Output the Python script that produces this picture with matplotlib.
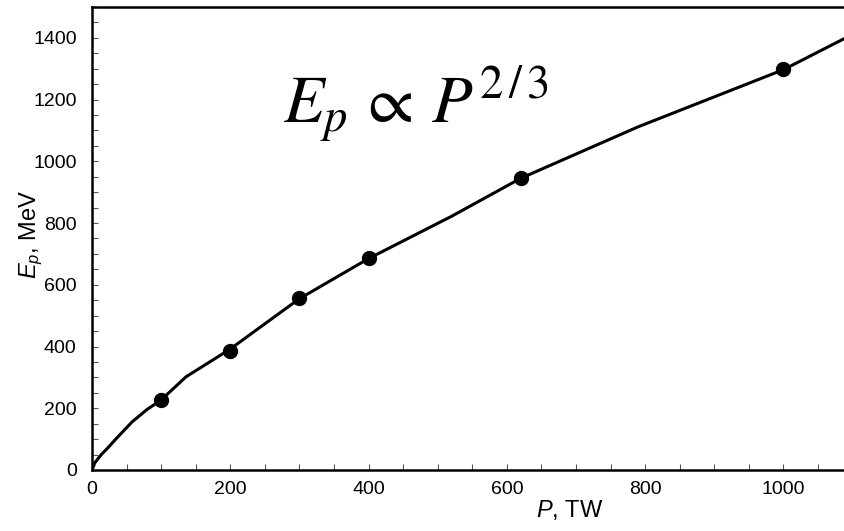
import matplotlib.pyplot as plt
from matplotlib.ticker import MultipleLocator

# measured points
P_data = [100, 200, 300, 400, 620, 1000]
E_data = [228, 384, 557, 687, 945, 1298]

# fitted curve
P_fit = [0, 4, 13, 23, 36, 58, 79, 100, 136, 200, 260, 300, 400, 520, 620, 790, 1000, 1090]
E_fit = [0, 23, 49, 72, 104, 156, 195, 227, 302, 392, 490, 555, 685, 822, 945, 1112, 1297, 1400]

x_ticks = [0, 200, 400, 600, 800, 1000]
y_ticks = [0, 200, 400, 600, 800, 1000, 1200, 1400]

plt.rcParams['font.family'] = ['Liberation Sans', 'DejaVu Sans']
plt.rcParams['mathtext.fontset'] = 'custom'
plt.rcParams['mathtext.rm'] = 'Liberation Sans'
plt.rcParams['mathtext.it'] = 'Liberation Sans:italic'

fig = plt.figure(figsize=(8.45, 5.31), dpi=100)
ax = fig.add_axes([0.1089, 0.1149, 0.8911, 0.8719])

ax.plot(P_fit, E_fit, color='black', lw=2.2, solid_joinstyle='round')
ax.plot(P_data, E_data, 'o', color='black', ms=10)

ax.set_xlim(0, 1089)
ax.set_ylim(0, 1500)
ax.set_xticks(x_ticks)
ax.set_yticks(y_ticks)
ax.xaxis.set_minor_locator(MultipleLocator(50))
ax.yaxis.set_minor_locator(MultipleLocator(50))
ax.tick_params(which='both', direction='in', length=4, width=0.8, color='#555555')
ax.tick_params(axis='x', labelsize=14, pad=8)
ax.tick_params(axis='y', labelsize=14, pad=11)

for side in ['left', 'bottom', 'top']:
	ax.spines[side].set_linewidth(1.8)
ax.spines['right'].set_visible(False)

ax.set_xlabel(r'$P$, TW', fontsize=17)
ax.set_ylabel(r'$E_p$, MeV', fontsize=17)
ax.xaxis.set_label_coords(0.635, -0.06)
ax.yaxis.set_label_coords(-0.062, 0.508)

fig.text(0.335, 0.770, r'$E_p\,\propto\,P^{2\,/\,3}$', fontsize=48,
	math_fontfamily='stix', ha='left', va='baseline')

fig.savefig('out.png', dpi=100)
